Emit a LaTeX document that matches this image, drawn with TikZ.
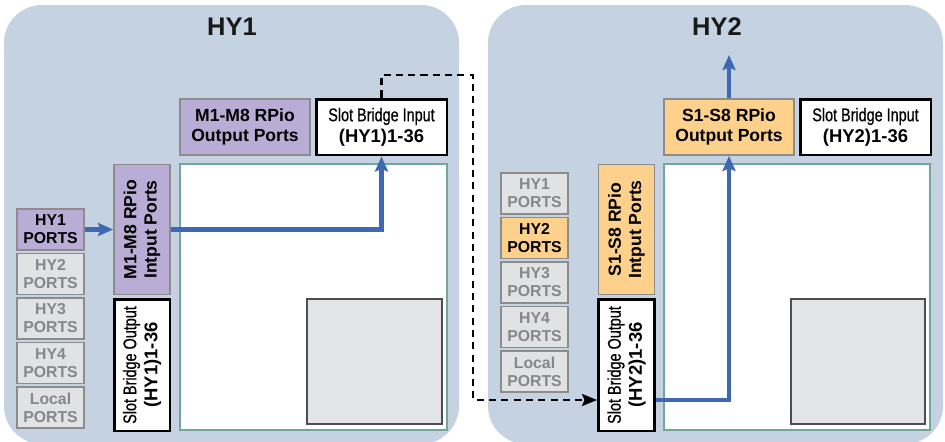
\documentclass[tikz,border=0pt]{standalone}
\usepackage{fontspec}
\setmainfont{Liberation Sans}
\newfontfamily\condfont[FakeStretch=0.78, FakeBold=0.6]{Liberation Sans}
\usetikzlibrary{arrows.meta,calc}

\definecolor{panelbg}{RGB}{196,210,226}
\definecolor{purp}{RGB}{185,173,213}
\definecolor{orng}{RGB}{253,208,139}
\definecolor{portgray}{RGB}{225,226,228}
\definecolor{edgegray}{RGB}{140,140,140}
\definecolor{txtgray}{RGB}{135,135,135}
\definecolor{flowblue}{RGB}{61,105,180}
\definecolor{gridgreen}{RGB}{111,168,152}
\definecolor{innergray}{RGB}{227,228,230}
\definecolor{darkline}{RGB}{77,77,77}

\begin{document}
\begin{tikzpicture}[
  x=0.02cm, y=-0.02cm,
  panel/.style={fill=panelbg, rounded corners=0.76cm},
  title/.style={font=\bfseries\fontsize{14.5}{16}\selectfont, text=black!90},
  rpio/.style={rectangle, draw=edgegray, line width=1.1pt, align=center, inner sep=0pt,
    font=\bfseries\fontsize{10}{11.5}\selectfont, minimum width=2.6cm, minimum height=1.12cm},
  slot/.style={rectangle, draw=black, line width=1.7pt, fill=white, align=center, inner sep=0pt,
    minimum width=2.62cm, minimum height=1.12cm},
  port/.style={rectangle, draw=edgegray, line width=1.1pt, fill=portgray, text=txtgray, align=center,
    font=\bfseries\fontsize{9}{10.2}\selectfont, minimum width=1.34cm, minimum height=0.82cm, inner sep=0pt},
  portpurp/.style={port, fill=purp, text=black},
  portorng/.style={port, fill=orng, text=black},
  matrixbox/.style={rectangle, draw=gridgreen, line width=0.9pt, fill=white, minimum width=5.34cm, minimum height=5.32cm},
  spare/.style={rectangle, draw=darkline, line width=0.9pt, fill=innergray, minimum width=2.7cm, minimum height=2.5cm},
  flow/.style={-{Stealth[length=0.3cm, width=0.26cm, inset=0.05cm]}, line width=2.6pt, flowblue},
  link/.style={-{Stealth[length=0.3cm, width=0.24cm, inset=0.05cm]}, line width=1.4pt, dash pattern=on 4pt off 3pt},
]
\useasboundingbox (0,0) rectangle (945,441);

% === HY1 ===
\path[panel] (4,5) rectangle (459,444);
\node[title] (t1) at (232,27) {HY1};

\node[matrixbox] (grid1) at (313.5,297) {};
\node[spare] (spare1) at (374.5,361.5) {};

\node[rpio, fill=purp] (m8out) at (245,127) {M1-M8 RPio\\Output Ports};
\node[slot] (sbin1) at (381.5,127)
  {{\condfont\fontsize{10.5}{12}\selectfont Slot Bridge Input}\\{\bfseries\fontsize{10.5}{12}\selectfont (HY1)1-36}};
\node[rpio, fill=purp, rotate=90] (m8in) at (142,229.5) {M1-M8 RPio\\Intput Ports};
\node[slot, rotate=90, minimum width=2.64cm] (sbout1) at (142,365)
  {{\condfont\fontsize{10.5}{12}\selectfont Slot Bridge Output}\\{\bfseries\fontsize{10.5}{12}\selectfont (HY1)1-36}};

\foreach \t/\s [count=\i] in {HY1/portpurp, HY2/port, HY3/port, HY4/port, Local/port}
  \node[\s] (l\i) at (50.5,185+44.5*\i) {\t\\PORTS};

\draw[flow] (l1) -- (m8in);
\draw[flow] (m8in) -| (sbin1);

% === HY2 ===
\path[panel] (488,5) rectangle (943,444);
\node[title] (t2) at (717,27) {HY2};

\node[matrixbox, minimum width=5.32cm] (grid2) at (797,297) {};
\node[spare, minimum width=2.68cm] (spare2) at (858,361.5) {};

\node[rpio, fill=orng] (s8out) at (729,127) {S1-S8 RPio\\Output Ports};
\node[slot] (sbin2) at (865.5,127)
  {{\condfont\fontsize{10.5}{12}\selectfont Slot Bridge Input}\\{\bfseries\fontsize{10.5}{12}\selectfont (HY2)1-36}};
\node[rpio, fill=orng, rotate=90] (s8in) at (626.5,229.5) {S1-S8 RPio\\Intput Ports};
\node[slot, rotate=90, minimum width=2.64cm] (sbout2) at (626.5,365)
  {{\condfont\fontsize{10.5}{12}\selectfont Slot Bridge Output}\\{\bfseries\fontsize{10.5}{12}\selectfont (HY2)1-36}};

\foreach \t/\s [count=\i] in {HY1/port, HY2/portorng, HY3/port, HY4/port, Local/port}
  \node[\s] (r\i) at (534.5,149+44.5*\i) {\t\\PORTS};

\coordinate (out2) at (729,55);
\draw[flow] ($(sbout2.south)+(0,35)$) -| (s8out);
\draw[flow] (s8out) -- (out2);

% === cascade link ===
\coordinate (turn) at (473,75);
\draw[link] (sbin1.north) |- (turn) |- ($(sbout2.north)+(0,35)$);
\end{tikzpicture}
\end{document}
